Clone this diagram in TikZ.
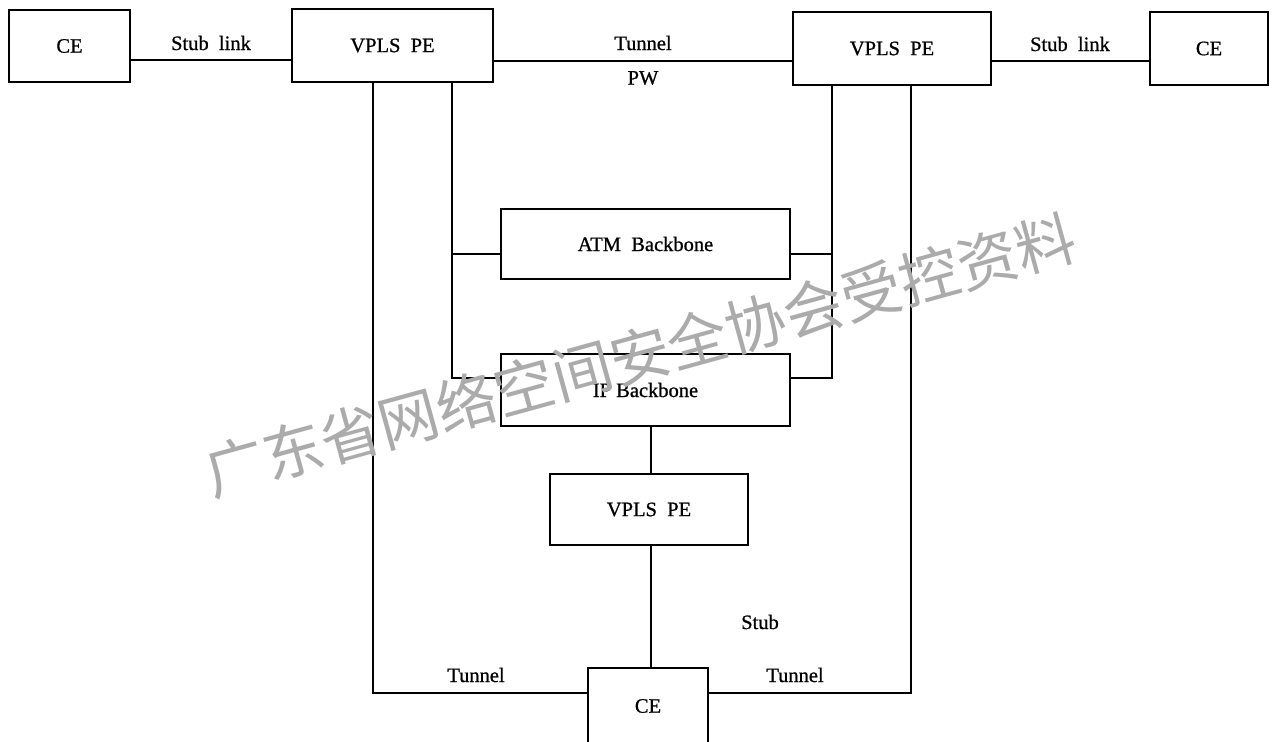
\documentclass[tikz,border=0pt]{standalone}
\usepackage{fontspec}
\setmainfont{Liberation Serif}[FakeBold=0.8]
\newfontfamily\cjk{Noto Sans CJK SC}
\begin{document}
\begin{tikzpicture}[x=1pt,y=-1pt,
  box/.style={draw, line width=1.1pt, inner sep=0pt, font=\fontsize{20.5}{24}\selectfont},
  lbl/.style={inner sep=0pt, font=\fontsize{20.5}{24}\selectfont},
  conn/.style={line width=1.1pt}]
\useasboundingbox (0,0) rectangle (1278,742);
\clip (0,0) rectangle (1278,742);
\fill[white] (0,0) rectangle (1278,742);
% boxes
\node[box, minimum width=121pt, minimum height=72pt] (ceL) at (69.5,46) {CE};
\node[box, minimum width=201pt, minimum height=73pt] (peL) at (392.5,45.5) {VPLS\ \ PE};
\node[box, minimum width=198pt, minimum height=73pt] (peR) at (892,48.5) {VPLS\ \ PE};
\node[box, minimum width=118pt, minimum height=73pt] (ceR) at (1209,48.5) {CE};
\node[box, minimum width=289pt, minimum height=70pt] (atm) at (645.5,244) {ATM\ \ Backbone};
\node[box, minimum width=289pt, minimum height=72pt] (ip) at (645.5,390) {IP\ Backbone};
\node[box, minimum width=198pt, minimum height=71pt] (peB) at (649,509.5) {VPLS\ \ PE};
\node[box, minimum width=120pt, minimum height=84pt] (ceB) at (648,710) {};
\node[lbl] (ceBt) at (648,706) {CE};
% helper coordinates
\coordinate (hTop) at (0,60);
\coordinate (hTop2) at (0,61);
\coordinate (hATM) at (0,254);
\coordinate (hIP) at (0,378);
\coordinate (hBot) at (0,693);
\coordinate (vA) at (373,0);
\coordinate (vB) at (452,0);
\coordinate (vC) at (832,0);
\coordinate (vD) at (911,0);
\coordinate (vM) at (651,0);
% connectors
\draw[conn] (ceL.east |- hTop) -- (peL.west |- hTop);
\draw[conn] (peL.east |- hTop2) -- (peR.west |- hTop2);
\draw[conn] (peR.east |- hTop2) -- (ceR.west |- hTop2);
\draw[conn] (vA |- peL.south) -- (vA |- hBot) -- (ceB.west |- hBot);
\draw[conn] (vD |- peR.south) -- (vD |- hBot) -- (ceB.east |- hBot);
\draw[conn] (vB |- peL.south) -- (vB |- hIP) -- (ip.west |- hIP);
\draw[conn] (vB |- hATM) -- (atm.west |- hATM);
\draw[conn] (vC |- peR.south) -- (vC |- hIP) -- (ip.east |- hIP);
\draw[conn] (vC |- hATM) -- (atm.east |- hATM);
\draw[conn] (vM |- ip.south) -- (vM |- peB.north);
\draw[conn] (vM |- peB.south) -- (vM |- ceB.north);
% labels
\node[lbl] (l1) at (211,43) {Stub\ \ link};
\node[lbl] (l2) at (643,43) {Tunnel};
\node[lbl] (l3) at (643,78) {PW};
\node[lbl] (l4) at (1070,44) {Stub\ \ link};
\node[lbl] (l5) at (760,622) {Stub};
\node[lbl] (l6) at (476,675) {Tunnel};
\node[lbl] (l7) at (795,675) {Tunnel};
% watermark
\node[inner sep=0pt, rotate=15.4, text=black!33, font=\cjk\fontsize{60}{62}\selectfont] (wm) at (640,355) {广东省网络空间安全协会受控资料};
\end{tikzpicture}
\end{document}
